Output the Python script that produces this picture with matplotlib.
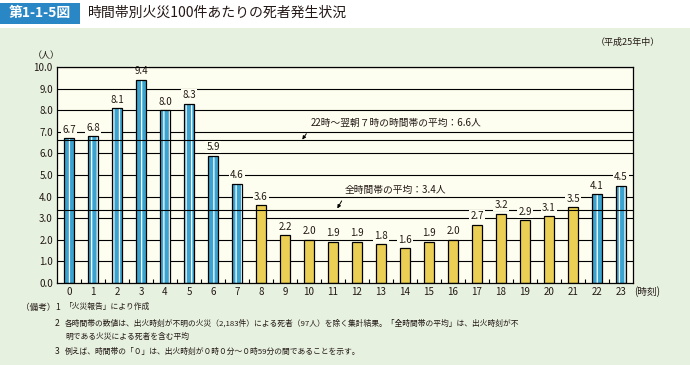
import numpy as np
import matplotlib
matplotlib.use("Agg")
from matplotlib import pyplot as plt
from matplotlib.patches import Rectangle

plt.rcParams['font.family'] = ['Noto Sans CJK JP', 'DejaVu Sans']
plt.rcParams['hatch.linewidth'] = 0.9

hours = list(range(24))
deaths = [6.7, 6.8, 8.1, 9.4, 8.0, 8.3, 5.9, 4.6, 3.6, 2.2, 2.0, 1.9,
          1.9, 1.8, 1.6, 1.9, 2.0, 2.7, 3.2, 2.9, 3.1, 3.5, 4.1, 4.5]
night_hours = [0, 1, 2, 3, 4, 5, 6, 7, 22, 23]
night_avg = 6.6
all_avg = 3.4

BLUE = '#3aa3cf'
YELLOW = '#ebcf55'
CREAM = '#fdfdf0'
GREEN = '#e6f1e0'
INK = '#231815'

fig = plt.figure(figsize=(6.9, 3.65), dpi=100, facecolor=GREEN)
# header band
fig.patches.append(Rectangle((0, 337/365), 1, 28/365, transform=fig.transFigure,
                             facecolor='white', edgecolor='none', zorder=0))
fig.patches.append(Rectangle((0, 341/365), 80/690, 21/365, transform=fig.transFigure,
                             facecolor='#2a87c5', edgecolor='none', zorder=1))
fig.text(40/690, 352/365, '第1-1-5図', color='white', fontsize=10, fontweight='bold',
         ha='center', va='center')
fig.text(88/690, 352/365, '時間帯別火災100件あたりの死者発生状況', color=INK,
         fontsize=10, ha='left', va='center')
fig.text(660/690, 323/365, '（平成25年中）', color=INK, fontsize=6.5, ha='right', va='center')
fig.text(46/690, 309/365, '（人）', color=INK, fontsize=6.5, ha='center', va='center')

ax = fig.add_axes([57/690, 82/365, 576/690, 216/365])
ax.set_facecolor(CREAM)

x = np.array(hours)
colors = [BLUE if h in night_hours else YELLOW for h in hours]
w = 0.4
for h, v, c in zip(hours, deaths, colors):
    if c == BLUE:
        ax.bar(h, v, width=w, color=BLUE, edgecolor='white', hatch='|||', linewidth=0, zorder=2)
    else:
        ax.bar(h, v, width=w, color=YELLOW, linewidth=0, zorder=2)
ax.bar(x, deaths, width=w, facecolor='none', edgecolor='black', linewidth=0.9, zorder=3)

for yv in np.arange(1, 11):
    ax.axhline(yv, color='black', lw=0.8, zorder=1)
ax.axhline(night_avg, color='black', lw=0.8, zorder=4)
ax.axhline(all_avg, color='black', lw=0.8, zorder=4)

for h, v in zip(hours, deaths):
    ax.annotate(f'{v:.1f}', (h, v), xytext=(0, 2.5), textcoords='offset points',
                ha='center', va='bottom', fontsize=7, color=INK, zorder=5,
                bbox=dict(boxstyle='square,pad=0.1', facecolor=CREAM, edgecolor='none'))

ax.annotate('22時～翌朝７時の時間帯の平均：6.6人', xy=(9.72, night_avg + 0.04), xytext=(10.05, 7.4),
            fontsize=7, color=INK, ha='left', va='center', zorder=5,
            bbox=dict(boxstyle='square,pad=0.1', facecolor=CREAM, edgecolor='none'),
            arrowprops=dict(arrowstyle='-|>', color='black', lw=0.7, shrinkA=4, shrinkB=0,
                            mutation_scale=5, relpos=(0, 0)))
ax.annotate('全時間帯の平均：3.4人', xy=(11.18, all_avg + 0.05), xytext=(11.5, 4.3),
            fontsize=7, color=INK, ha='left', va='center', zorder=5,
            bbox=dict(boxstyle='square,pad=0.1', facecolor=CREAM, edgecolor='none'),
            arrowprops=dict(arrowstyle='-|>', color='black', lw=0.7, shrinkA=4, shrinkB=0,
                            mutation_scale=5, relpos=(0, 0)))

ax.set_xlim(-0.5, 23.5)
ax.set_ylim(0, 10)
ax.set_yticks(np.arange(0, 11))
ax.set_yticklabels([f'{v:.1f}' for v in np.arange(0, 11)], fontsize=7, color=INK)
ax.set_xticks(x)
ax.set_xticklabels([str(h) for h in hours], fontsize=7, color=INK)
ax.tick_params(axis='both', length=0, pad=3)
ax.set_xticks(np.arange(0.5, 23.5, 1), minor=True)
ax.tick_params(axis='x', which='minor', direction='in', length=3, width=0.8, color='black')
for s in ax.spines.values():
    s.set_color('black')
    s.set_linewidth(0.9)
    s.set_zorder(6)
fig.text(634/690, 73/365, '(時刻)', color=INK, fontsize=7, ha='left', va='center')

notes = [
    (307, '（備考）', '1', '「火災報告」により作成'),
    (323, '', '2', '各時間帯の数値は、出火時刻が不明の火災（2,183件）による死者（97人）を除く集計結果。「全時間帯の平均」は、出火時刻が不'),
    (337, '', '', '明である火災による死者を含む平均'),
    (352, '', '3', '例えば、時間帯の「０」は、出火時刻が０時０分～０時59分の間であることを示す。'),
]
for yy, head, num, txt in notes:
    yf = (365 - yy) / 365
    if head:
        fig.text(21/690, yf, head, fontsize=6.2, color=INK, ha='left', va='center')
    if num:
        fig.text(55/690, yf, num, fontsize=6.2, color=INK, ha='left', va='center')
    fig.text(65/690, yf, txt, fontsize=5.6, color=INK, ha='left', va='center')

fig.savefig('out.png', dpi=100, facecolor=GREEN)
